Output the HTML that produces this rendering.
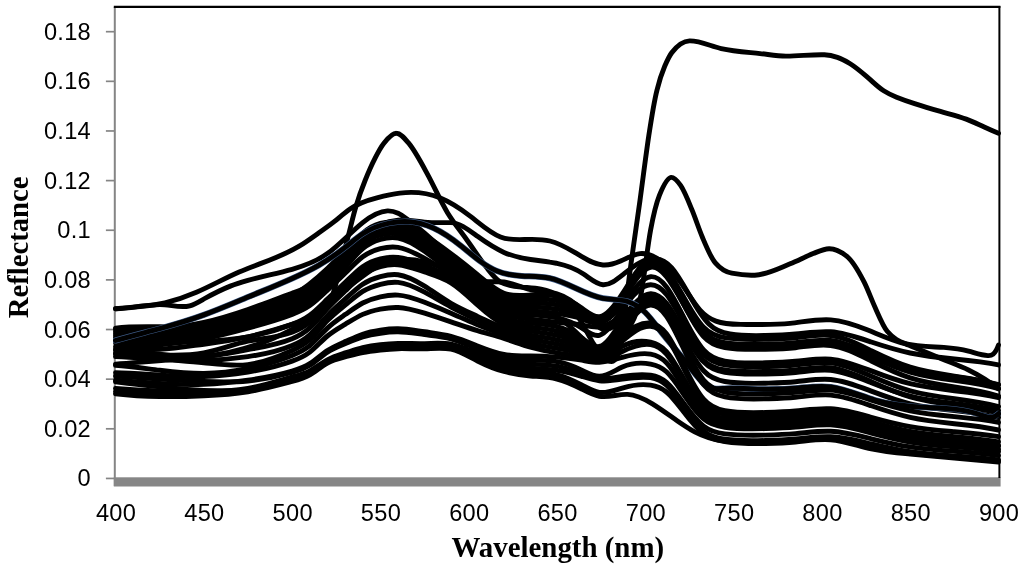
<!DOCTYPE html>
<html><head><meta charset="utf-8"><title>Reflectance</title>
<style>
html,body{margin:0;padding:0;background:#fff;}
body{width:1024px;height:567px;overflow:hidden;}
svg{display:block}
.num text{font-family:"Liberation Sans","DejaVu Sans",sans-serif;font-size:23.6px;letter-spacing:0.3px;fill:#000;}
.ttl{font-family:"Liberation Serif","DejaVu Serif",serif;font-weight:bold;fill:#000;}
.cv path{fill:none;stroke:#000;stroke-width:4.9;stroke-linejoin:round;stroke-linecap:round;}
.tk line{stroke:#858585;stroke-width:1.7;}
</style></head><body>
<svg width="1024" height="567" viewBox="0 0 1024 567">
<rect width="1024" height="567" fill="#fff"/>
<g class="tk"><line x1="105.9" x2="114.5" y1="478.45" y2="478.45"/><line x1="105.9" x2="114.5" y1="428.81" y2="428.81"/><line x1="105.9" x2="114.5" y1="379.17" y2="379.17"/><line x1="105.9" x2="114.5" y1="329.53" y2="329.53"/><line x1="105.9" x2="114.5" y1="279.89" y2="279.89"/><line x1="105.9" x2="114.5" y1="230.25" y2="230.25"/><line x1="105.9" x2="114.5" y1="180.61" y2="180.61"/><line x1="105.9" x2="114.5" y1="130.97" y2="130.97"/><line x1="105.9" x2="114.5" y1="81.33" y2="81.33"/><line x1="105.9" x2="114.5" y1="31.69" y2="31.69"/><line x1="114.8" x2="114.8" y1="7" y2="486" style="stroke-width:2"/></g>
<rect x="113.8" y="477.3" width="886.8" height="9.2" fill="#868686"/>
<clipPath id="cp"><rect x="113" y="0" width="888" height="480"/></clipPath>
<g class="cv" clip-path="url(#cp)">
<path d="M115.5,349.2C130.2,349.8 144.9,349.7 159.7,349.2C174.4,348.7 189.1,346.2 203.8,344.2C218.5,342.2 233.2,340.0 247.9,336.8C262.7,333.6 277.4,329.1 292.1,324.4C300.9,321.5 309.8,319.3 318.6,314.4C322.7,312.2 326.8,308.6 331.0,299.5C334.5,291.8 338.0,274.9 341.5,261.6C343.6,253.8 345.7,246.2 347.7,238.2C350.4,228.0 353.0,216.2 355.7,207.2C358.9,196.4 362.0,188.0 365.2,180.2C368.5,172.0 371.8,164.5 375.1,158.1C378.0,152.3 381.0,146.9 383.9,143.2C388.1,138.0 392.2,133.2 396.3,133.3C400.4,133.3 404.5,138.3 408.7,143.2C415.1,150.9 421.6,163.4 428.1,175.4C434.6,187.5 441.0,202.0 447.5,212.7C454.0,223.3 460.5,231.0 466.9,240.0C473.4,248.9 479.9,259.1 486.4,267.3C491.1,273.2 495.8,279.6 500.5,282.2C507.6,286.0 514.6,286.5 521.7,287.1C528.2,287.7 534.6,288.0 541.1,289.1C547.6,290.3 554.1,292.8 560.5,297.1C566.4,300.9 572.3,308.2 578.2,316.9C582.9,323.9 587.6,334.1 592.3,341.7C595.9,347.5 599.4,353.4 602.9,356.6C605.9,359.3 608.8,361.6 611.7,361.6C613.6,361.6 615.5,359.9 617.4,355.6C619.0,351.9 620.7,342.3 622.3,331.8C624.5,318.0 626.7,296.7 628.9,279.7C632.6,250.7 636.3,226.9 640.0,200.3C642.9,179.1 645.9,155.1 648.8,135.7C651.5,117.9 654.2,101.1 657.0,90.1C659.5,79.5 662.1,72.3 664.7,66.2C667.1,60.7 669.4,55.6 671.8,52.6C677.7,45.0 683.6,41.1 689.5,40.9C700.0,40.6 710.6,46.2 721.2,48.6C734.2,51.5 747.1,52.2 760.1,53.6C768.7,54.5 777.3,56.0 785.9,56.1C798.7,56.2 811.5,54.4 824.4,54.8C828.7,55.0 833.1,55.9 837.4,57.3C841.7,58.6 845.9,61.1 850.2,63.8C856.2,67.5 862.2,72.8 868.2,77.9C873.3,82.3 878.5,87.5 883.7,90.8C888.0,93.6 892.3,95.5 896.6,97.3C902.6,99.7 908.6,101.8 914.6,103.7C923.2,106.5 931.8,109.0 940.4,111.4C949.0,113.9 957.6,115.9 966.2,119.1C972.2,121.3 978.2,124.3 984.2,127.0C989.0,129.2 993.7,131.3 998.5,133.3"/>
<path d="M115.5,364.1C144.9,361.7 174.4,360.1 203.8,356.6C233.2,353.2 262.7,345.0 292.1,329.3C309.8,319.9 327.4,302.5 345.1,289.6C361.6,277.6 378.0,262.1 394.5,259.8C413.4,257.2 432.2,262.5 451.0,272.2C468.7,281.3 486.4,304.8 504.0,309.5C521.7,314.2 539.3,309.1 557.0,316.9C572.3,323.7 587.6,350.6 602.9,349.2C611.2,348.4 619.4,339.0 627.6,329.3C631.8,324.5 635.9,317.5 640.0,299.5C643.5,284.1 647.1,248.9 650.6,230.0C653.5,214.3 656.5,202.5 659.4,195.3C663.3,185.8 667.2,177.8 671.1,177.4C674.3,177.1 677.4,180.9 680.6,185.4C684.4,190.8 688.3,200.8 692.1,210.2C695.6,218.8 699.0,229.2 702.5,237.5C706.7,247.5 710.9,257.7 715.1,262.6C720.6,269.1 726.2,272.1 731.8,273.2C739.5,274.7 747.1,275.6 754.8,275.2C766.6,274.7 778.3,268.6 790.1,263.8C797.8,260.7 805.4,256.7 813.1,253.6C818.4,251.5 823.7,248.8 829.0,248.7C834.9,248.5 840.7,251.5 846.6,256.1C852.5,260.7 858.4,270.8 864.3,282.4C867.8,289.4 871.3,299.1 874.9,307.0C879.0,316.2 883.1,326.3 887.2,331.3C894.3,339.9 901.4,342.0 908.4,345.0C919.6,349.6 930.8,354.1 942.0,358.9C950.8,362.6 959.6,365.8 968.5,370.0C978.5,374.9 988.5,380.9 998.5,388.9"/>
<path d="M115.5,308.7C123.7,307.9 132.0,307.3 140.2,306.5C148.5,305.7 156.7,304.6 164.9,302.8C175.4,300.4 185.9,296.9 196.4,292.3C210.6,286.2 224.9,278.2 239.1,272.0C259.1,263.3 279.1,258.3 299.2,246.2C305.6,242.3 312.1,237.6 318.6,233.0C323.9,229.3 329.2,225.6 334.5,221.4C339.8,217.1 345.1,212.3 350.4,208.7C359.2,202.7 368.0,200.1 376.9,197.8C384.5,195.8 392.2,194.0 399.8,193.1C413.4,191.4 426.9,192.5 440.4,198.0C450.5,202.1 460.5,208.6 470.5,216.4C480.5,224.2 490.5,233.2 500.5,237.0C508.7,240.2 517.0,239.8 525.2,239.5C533.5,239.2 541.7,238.9 549.9,241.0C558.2,243.0 566.4,247.5 574.7,252.4C584.1,258.0 593.5,264.4 602.9,265.0C608.8,265.5 614.7,263.7 620.6,261.1C627.1,258.2 633.5,254.3 640.0,253.6C646.5,253.0 653.0,255.5 659.4,260.1C666.5,265.1 673.6,272.5 680.6,282.4C687.1,291.5 693.6,302.7 700.0,310.0C705.3,315.9 710.6,319.1 715.9,321.1C724.2,324.2 732.4,324.3 740.7,324.4C757.1,324.6 773.6,325.1 790.1,323.4C803.7,321.9 817.2,318.9 830.7,319.9C843.1,320.8 855.5,325.1 867.8,330.1C880.2,335.1 892.5,340.8 904.9,343.7C917.9,346.7 930.8,346.6 943.8,347.4C952.0,348.0 960.2,348.9 968.5,351.2C975.0,352.9 981.4,355.5 987.9,355.6C989.7,355.7 991.4,355.6 993.2,354.1C995.0,352.7 996.7,350.0 998.5,345.0"/>
<path d="M115.5,308.7C123.7,308.8 132.0,307.4 140.2,306.2C148.5,305.1 156.7,304.0 164.9,304.8C173.2,305.5 181.4,308.0 189.7,305.8C194.4,304.5 199.1,301.7 203.8,299.0C212.6,294.1 221.5,289.6 230.3,286.1C236.2,283.9 242.1,282.1 247.9,280.4C262.7,276.4 277.4,273.3 292.1,269.3C303.9,266.0 315.6,262.1 327.4,253.6C339.2,245.1 351.0,232.0 362.7,222.6C371.0,216.0 379.2,211.3 387.5,210.9C391.0,210.8 394.5,211.5 398.1,213.2C401.0,214.6 403.9,216.7 406.9,218.9C412.8,223.3 418.7,228.0 424.6,233.0C433.4,240.5 442.2,248.5 451.0,257.4C459.9,266.2 468.7,276.0 477.5,279.7C486.4,283.4 495.2,280.9 504.0,282.0C512.9,283.0 521.7,287.6 530.5,289.7C539.3,291.7 548.2,291.2 557.0,293.8C565.8,296.4 574.7,302.0 583.5,311.6C590.0,318.6 596.4,327.7 602.9,329.3C610.0,331.1 617.0,324.1 624.1,317.2C632.9,308.6 641.8,300.3 650.6,300.5C655.9,300.7 661.2,303.9 666.5,310.5C672.4,317.8 678.3,329.2 684.2,340.2C690.6,352.3 697.1,363.9 703.6,370.8C710.6,378.3 717.7,380.3 724.8,381.5C738.3,383.9 751.8,383.5 765.4,383.2C775.4,382.9 785.4,382.7 795.4,381.7C807.2,380.6 819.0,378.4 830.7,379.5C844.3,380.7 857.8,386.0 871.3,391.1C884.3,396.0 897.2,400.7 910.2,403.8C924.9,407.4 939.6,409.0 954.4,410.6C969.1,412.3 983.8,413.9 998.5,417.5"/>
<path d="M115.5,328.1C130.2,326.3 144.9,326.7 159.7,326.8C174.4,327.0 189.1,327.0 203.8,324.4C218.5,321.7 233.2,316.4 247.9,312.0C262.7,307.5 277.4,304.0 292.1,295.8C303.9,289.3 315.6,279.8 327.4,268.6C339.2,257.3 351.0,244.4 362.7,235.3C374.5,226.2 386.3,221.0 398.1,220.1C406.9,219.5 415.7,221.3 424.6,222.1C432.8,222.9 441.0,222.7 449.3,222.6C449.9,222.6 450.5,222.6 451.0,222.6C459.9,222.9 468.7,229.9 477.5,236.3C486.4,242.7 495.2,248.5 504.0,252.4C512.9,256.3 521.7,258.2 530.5,259.5C537.0,260.5 543.5,261.1 549.9,262.1C552.3,262.4 554.6,262.9 557.0,263.4C565.8,265.2 574.7,268.2 583.5,274.0C590.0,278.3 596.4,284.2 602.9,284.7C610.0,285.2 617.0,279.3 624.1,273.7C629.4,269.5 634.7,265.4 640.0,262.6C645.3,259.7 650.6,258.1 655.9,258.6C661.2,259.1 666.5,261.8 671.8,267.8C677.7,274.5 683.6,285.2 689.5,295.5C695.9,306.8 702.4,317.6 708.9,324.0C715.9,331.0 723.0,332.9 730.1,334.0C741.8,335.9 753.6,335.8 765.4,335.5C775.4,335.3 785.4,335.0 795.4,334.0C807.2,332.9 819.0,331.0 830.7,331.8C844.3,332.8 857.8,337.5 871.3,342.0C884.3,346.3 897.2,350.3 910.2,353.0C924.9,356.1 939.6,357.6 954.4,359.0C969.1,360.4 983.8,361.8 998.5,364.9"/>
<path d="M115.5,329.3C130.2,329.2 144.9,329.0 159.7,328.1C174.4,327.2 189.1,325.5 203.8,322.4C218.5,319.2 233.2,314.6 247.9,309.5C262.7,304.3 277.4,298.6 292.1,293.3C298.0,291.2 303.9,289.2 309.8,286.3C315.6,283.4 321.5,279.6 327.4,274.2C333.3,268.9 339.2,262.0 345.1,254.4C351.0,246.9 356.9,238.7 362.7,233.2C368.6,227.7 374.5,224.9 380.4,223.3C386.3,221.7 392.2,221.4 398.1,222.6C406.9,224.3 415.7,229.4 424.6,235.0C433.4,240.7 442.2,247.0 451.0,253.6C459.9,260.3 468.7,267.3 477.5,274.7C486.4,282.1 495.2,289.9 504.0,293.3C512.9,296.7 521.7,295.7 530.5,295.0C539.3,294.3 548.2,293.9 557.0,296.1C565.2,298.1 573.5,302.2 581.7,308.0C587.6,312.2 593.5,317.2 599.4,316.7C607.0,316.0 614.7,305.9 622.3,293.9C631.8,279.2 641.2,261.7 650.6,259.8C655.9,258.8 661.2,262.7 666.5,269.4C672.4,276.7 678.3,287.5 684.2,298.0C690.6,309.5 697.1,320.7 703.6,327.3C710.6,334.6 717.7,336.5 724.8,337.7C738.3,339.9 751.8,339.6 765.4,339.3C775.4,339.0 785.4,338.8 795.4,337.8C807.2,336.5 819.0,334.1 830.7,335.5C844.3,337.2 857.8,344.1 871.3,350.7C884.3,357.0 897.2,363.1 910.2,367.2C924.9,371.8 939.6,374.0 954.4,376.1C969.1,378.2 983.8,380.3 998.5,385.0"/>
<path d="M115.5,331.3C130.2,331.6 144.9,331.2 159.7,330.1C174.4,328.9 189.1,326.9 203.8,323.9C218.5,320.8 233.2,316.7 247.9,312.0C262.7,307.2 277.4,301.9 292.1,296.6C298.0,294.4 303.9,292.3 309.8,289.2C315.6,286.0 321.5,281.9 327.4,276.5C333.3,271.1 339.2,264.5 345.1,257.2C351.0,249.9 356.9,242.1 362.7,236.8C368.6,231.4 374.5,228.7 380.4,227.1C386.3,225.6 392.2,225.2 398.1,226.3C406.9,228.0 415.7,233.1 424.6,238.7C433.4,244.4 442.2,250.7 451.0,257.4C459.9,264.0 468.7,270.9 477.5,278.3C486.4,285.6 495.2,293.4 504.0,296.8C512.9,300.3 521.7,299.5 530.5,299.0C539.3,298.6 548.2,298.7 557.0,300.5C565.2,302.3 573.5,305.7 581.7,310.8C587.6,314.4 593.5,318.9 599.4,318.2C607.0,317.2 614.7,307.5 622.3,295.8C631.8,281.4 641.2,264.0 650.6,262.3C655.9,261.3 661.2,265.3 666.5,272.1C672.4,279.7 678.3,290.8 684.2,301.6C690.6,313.5 697.1,325.1 703.6,331.9C710.6,339.4 717.7,341.4 724.8,342.6C738.3,344.9 751.8,344.5 765.4,344.2C775.4,344.0 785.4,343.8 795.4,342.7C807.2,341.5 819.0,339.2 830.7,340.5C844.3,342.0 857.8,348.2 871.3,354.1C884.3,359.7 897.2,365.1 910.2,368.8C924.9,372.9 939.6,374.8 954.4,376.7C969.1,378.6 983.8,380.5 998.5,384.7"/>
<path d="M115.5,333.3C130.2,333.5 144.9,333.3 159.7,332.3C174.4,331.3 189.1,329.6 203.8,326.8C218.5,324.1 233.2,320.2 247.9,315.7C262.7,311.2 277.4,306.0 292.1,300.5C298.0,298.4 303.9,296.1 309.8,292.7C315.6,289.4 321.5,284.9 327.4,279.4C333.3,273.9 339.2,267.4 345.1,260.3C351.0,253.2 356.9,245.6 362.7,240.4C368.6,235.2 374.5,232.5 380.4,231.0C386.3,229.4 392.2,229.0 398.1,230.0C406.9,231.7 415.7,236.7 424.6,242.4C433.4,248.0 442.2,254.2 451.0,260.8C459.9,267.4 468.7,274.4 477.5,281.7C486.4,289.1 495.2,296.8 504.0,300.3C512.9,303.8 521.7,303.2 530.5,303.0C539.3,302.8 548.2,303.1 557.0,304.8C565.2,306.3 573.5,309.1 581.7,313.5C587.6,316.7 593.5,320.8 599.4,319.9C607.0,318.8 614.7,309.4 622.3,297.9C631.8,283.7 641.2,266.4 650.6,264.8C655.9,263.9 661.2,267.9 666.5,274.9C672.4,282.7 678.3,294.2 684.2,305.3C690.6,317.6 697.1,329.4 703.6,336.5C710.6,344.3 717.7,346.3 724.8,347.5C738.3,349.9 751.8,349.5 765.4,349.2C775.4,349.0 785.4,348.8 795.4,347.7C807.2,346.4 819.0,343.9 830.7,345.5C844.3,347.2 857.8,354.3 871.3,361.0C884.3,367.5 897.2,373.7 910.2,377.9C924.9,382.6 939.6,384.8 954.4,387.0C969.1,389.2 983.8,391.3 998.5,396.1"/>
<path d="M115.5,335.3C130.2,335.4 144.9,335.3 159.7,334.5C174.4,333.8 189.1,332.4 203.8,329.8C218.5,327.3 233.2,323.7 247.9,319.4C262.7,315.1 277.4,310.2 292.1,304.5C298.0,302.2 303.9,299.8 309.8,296.1C315.6,292.4 321.5,287.4 327.4,281.6C333.3,275.9 339.2,269.4 345.1,262.4C351.0,255.3 356.9,247.7 362.7,242.6C368.6,237.4 374.5,234.7 380.4,233.1C386.3,231.5 392.2,230.9 398.1,232.0C406.9,233.7 415.7,239.0 424.6,244.9C433.4,250.9 442.2,257.5 451.0,264.3C459.9,271.1 468.7,277.9 477.5,285.2C486.4,292.5 495.2,300.2 504.0,303.8C512.9,307.4 521.7,306.9 530.5,307.0C539.3,307.1 548.2,307.8 557.0,309.2C565.2,310.6 573.5,312.6 581.7,316.3C587.6,318.9 593.5,322.4 599.4,321.4C607.0,320.0 614.7,310.9 622.3,299.7C631.8,286.0 641.2,269.0 650.6,267.3C655.9,266.3 661.2,270.2 666.5,276.8C672.4,284.2 678.3,294.9 684.2,305.4C690.6,316.9 697.1,328.1 703.6,334.8C710.6,342.1 717.7,343.9 724.8,345.1C738.3,347.4 751.8,347.0 765.4,346.7C775.4,346.5 785.4,346.2 795.4,345.2C807.2,344.0 819.0,341.7 830.7,343.0C844.3,344.5 857.8,350.9 871.3,357.0C884.3,362.8 897.2,368.4 910.2,372.1C924.9,376.4 939.6,378.4 954.4,380.3C969.1,382.3 983.8,384.3 998.5,388.6"/>
<path d="M115.5,337.3C130.2,337.3 144.9,337.3 159.7,336.8C174.4,336.2 189.1,335.1 203.8,332.8C218.5,330.5 233.2,327.2 247.9,323.1C262.7,319.1 277.4,314.4 292.1,308.5C298.0,306.1 303.9,303.5 309.8,299.4C315.6,295.4 321.5,289.8 327.4,283.7C333.3,277.7 339.2,271.3 345.1,264.2C351.0,257.2 356.9,249.6 362.7,244.5C368.6,239.4 374.5,236.7 380.4,235.0C386.3,233.3 392.2,232.7 398.1,233.8C406.9,235.4 415.7,241.1 424.6,247.4C433.4,253.6 442.2,260.5 451.0,267.8C459.9,275.0 468.7,282.6 477.5,290.5C486.4,298.4 495.2,306.6 504.0,310.7C512.9,314.8 521.7,314.7 530.5,315.0C539.3,315.3 548.2,316.0 557.0,317.9C565.2,319.7 573.5,322.7 581.7,328.0C587.6,331.8 593.5,336.8 599.4,335.3C607.0,333.4 614.7,320.5 622.3,309.5C631.8,295.8 641.2,284.8 650.6,284.7C655.9,284.6 661.2,287.9 666.5,294.5C672.4,301.8 678.3,313.1 684.2,324.0C690.6,335.9 697.1,347.4 703.6,354.3C710.6,361.7 717.7,363.7 724.8,364.9C738.3,367.3 751.8,366.9 765.4,366.6C775.4,366.3 785.4,366.1 795.4,365.1C807.2,363.9 819.0,361.6 830.7,362.8C844.3,364.3 857.8,370.4 871.3,376.3C884.3,381.9 897.2,387.3 910.2,390.9C924.9,395.0 939.6,396.9 954.4,398.8C969.1,400.7 983.8,402.6 998.5,406.7"/>
<path d="M115.5,339.3C130.2,339.3 144.9,339.4 159.7,339.0C174.4,338.6 189.1,337.8 203.8,335.8C218.5,333.8 233.2,330.7 247.9,326.8C262.7,323.0 277.4,318.5 292.1,312.5C298.0,310.0 303.9,307.4 309.8,303.0C315.6,298.7 321.5,292.8 327.4,286.7C333.3,280.6 339.2,274.3 345.1,267.6C351.0,260.8 356.9,253.5 362.7,248.6C368.6,243.6 374.5,241.0 380.4,239.3C386.3,237.7 392.2,237.0 398.1,238.0C406.9,239.5 415.7,245.0 424.6,251.3C433.4,257.6 442.2,264.7 451.0,271.3C459.9,277.8 468.7,283.8 477.5,290.3C486.4,296.8 495.2,303.8 504.0,307.2C512.9,310.7 521.7,310.6 530.5,311.0C539.3,311.4 548.2,312.2 557.0,313.4C565.2,314.6 573.5,316.0 581.7,318.9C587.6,321.0 593.5,323.8 599.4,322.9C607.0,321.6 614.7,314.0 622.3,304.4C631.8,292.6 641.2,277.7 650.6,276.7C655.9,276.2 661.2,280.0 666.5,287.0C672.4,294.9 678.3,306.6 684.2,318.1C690.6,330.6 697.1,342.7 703.6,349.9C710.6,357.8 717.7,359.8 724.8,361.1C738.3,363.6 751.8,363.2 765.4,362.8C775.4,362.6 785.4,362.3 795.4,361.3C807.2,360.2 819.0,358.1 830.7,359.1C844.3,360.3 857.8,365.8 871.3,370.9C884.3,375.9 897.2,380.6 910.2,383.7C924.9,387.3 939.6,389.0 954.4,390.7C969.1,392.3 983.8,394.0 998.5,397.6"/>
<path d="M115.5,346.7C130.2,346.5 144.9,345.9 159.7,344.7C174.4,343.5 189.1,341.6 203.8,338.8C218.5,335.9 233.2,332.1 247.9,328.1C262.7,324.1 277.4,320.0 292.1,314.4C298.0,312.2 303.9,309.7 309.8,305.6C315.6,301.5 321.5,295.8 327.4,290.2C333.3,284.6 339.2,279.2 345.1,273.3C351.0,267.5 356.9,261.2 362.7,256.8C368.6,252.5 374.5,250.2 380.4,248.7C386.3,247.2 392.2,246.6 398.1,247.4C406.9,248.7 415.7,253.5 424.6,258.3C433.4,263.2 442.2,268.2 451.0,274.7C459.9,281.3 468.7,289.4 477.5,297.5C486.4,305.5 495.2,313.4 504.0,317.7C512.9,321.9 521.7,322.4 530.5,323.0C539.3,323.6 548.2,324.3 557.0,326.6C565.2,328.7 573.5,332.2 581.7,338.1C587.6,342.3 593.5,347.8 599.4,346.5C607.0,344.7 614.7,331.6 622.3,320.0C631.8,305.8 641.2,294.0 650.6,293.6C655.9,293.4 661.2,296.7 666.5,303.2C672.4,310.5 678.3,321.5 684.2,332.2C690.6,343.9 697.1,355.2 703.6,361.9C710.6,369.3 717.7,371.2 724.8,372.4C738.3,374.7 751.8,374.3 765.4,374.0C775.4,373.8 785.4,373.5 795.4,372.5C807.2,371.4 819.0,369.2 830.7,370.3C844.3,371.6 857.8,377.3 871.3,382.7C884.3,387.9 897.2,392.8 910.2,396.1C924.9,399.9 939.6,401.7 954.4,403.4C969.1,405.2 983.8,406.9 998.5,410.7"/>
<path d="M115.5,343.0C130.2,342.5 144.9,342.4 159.7,342.2C174.4,342.1 189.1,341.9 203.8,341.2C218.5,340.6 233.2,339.4 247.9,336.8C262.7,334.2 277.4,330.1 292.1,324.4C298.0,322.1 303.9,319.5 309.8,315.2C315.6,310.9 321.5,304.8 327.4,299.1C333.3,293.5 339.2,288.2 345.1,282.6C351.0,276.9 356.9,270.8 362.7,266.7C368.6,262.5 374.5,260.2 380.4,258.8C386.3,257.3 392.2,256.7 398.1,257.4C406.9,258.3 415.7,262.0 424.6,265.5C433.4,269.0 442.2,272.4 451.0,277.7C459.9,283.0 468.7,290.1 477.5,297.0C486.4,304.0 495.2,310.6 504.0,314.2C512.9,317.7 521.7,318.2 530.5,319.1C539.3,320.0 548.2,321.5 557.0,322.4C565.2,323.2 573.5,323.6 581.7,325.0C587.6,326.0 593.5,327.5 599.4,326.8C607.0,325.9 614.7,321.2 622.3,314.9C631.8,307.2 641.2,297.2 650.6,297.1C655.9,297.0 661.2,300.0 666.5,306.0C672.4,312.6 678.3,322.9 684.2,332.8C690.6,343.7 697.1,354.1 703.6,360.4C710.6,367.1 717.7,368.9 724.8,370.0C738.3,372.2 751.8,371.8 765.4,371.5C775.4,371.3 785.4,371.1 795.4,370.0C807.2,368.8 819.0,366.5 830.7,367.8C844.3,369.3 857.8,375.7 871.3,381.7C884.3,387.5 897.2,393.1 910.2,396.8C924.9,401.1 939.6,403.1 954.4,405.0C969.1,407.0 983.8,408.9 998.5,413.2"/>
<path d="M115.5,340.5C130.2,336.3 144.9,332.6 159.7,328.6C174.4,324.6 189.1,320.3 203.8,314.9C218.5,309.6 233.2,303.2 247.9,297.1C262.7,290.9 277.4,285.0 292.1,278.4C300.9,274.5 309.8,270.3 318.6,265.3C327.4,260.3 336.3,254.4 345.1,247.4C351.0,242.8 356.9,237.7 362.7,233.8C371.6,227.9 380.4,224.9 389.2,223.1C395.7,221.8 402.2,221.2 408.7,221.6C416.9,222.1 425.1,224.3 433.4,228.1C442.8,232.4 452.2,238.9 461.6,246.4C467.5,251.1 473.4,256.2 479.3,260.6C485.2,264.9 491.1,268.6 497.0,271.0C505.2,274.4 513.4,275.5 521.7,276.0C531.1,276.5 540.5,276.1 549.9,278.2C567.6,282.2 585.3,295.2 602.9,298.3C611.2,299.8 619.4,299.1 627.6,301.5C633.5,303.3 639.4,306.6 645.3,312.5C651.2,318.3 657.1,326.8 663.0,334.3C665.9,338.0 668.8,341.5 671.8,345.0C677.7,351.9 683.6,358.8 689.5,366.6C694.7,373.5 700.0,381.1 705.3,384.9C711.8,389.6 718.3,388.7 724.8,388.4C733.6,388.0 742.4,388.5 751.3,388.9C766.0,389.5 780.7,389.4 795.4,388.2C807.2,387.2 819.0,385.4 830.7,386.9C845.4,388.8 860.2,395.7 874.9,400.1C892.5,405.3 910.2,406.7 927.9,407.5C945.5,408.3 963.2,408.6 980.8,415.0C984.4,416.2 987.9,417.8 991.4,417.4C993.8,417.2 996.1,416.2 998.5,413.7" style="stroke:#3c5a86;stroke-width:6.0"/>
<path d="M115.5,340.5C130.2,336.3 144.9,332.6 159.7,328.6C174.4,324.6 189.1,320.3 203.8,314.9C218.5,309.6 233.2,303.2 247.9,297.1C262.7,290.9 277.4,285.0 292.1,278.4C300.9,274.5 309.8,270.3 318.6,265.3C327.4,260.3 336.3,254.4 345.1,247.4C351.0,242.8 356.9,237.7 362.7,233.8C371.6,227.9 380.4,224.9 389.2,223.1C395.7,221.8 402.2,221.2 408.7,221.6C416.9,222.1 425.1,224.3 433.4,228.1C442.8,232.4 452.2,238.9 461.6,246.4C467.5,251.1 473.4,256.2 479.3,260.6C485.2,264.9 491.1,268.6 497.0,271.0C505.2,274.4 513.4,275.5 521.7,276.0C531.1,276.5 540.5,276.1 549.9,278.2C567.6,282.2 585.3,295.2 602.9,298.3C611.2,299.8 619.4,299.1 627.6,301.5C633.5,303.3 639.4,306.6 645.3,312.5C651.2,318.3 657.1,326.8 663.0,334.3C665.9,338.0 668.8,341.5 671.8,345.0C677.7,351.9 683.6,358.8 689.5,366.6C694.7,373.5 700.0,381.1 705.3,384.9C711.8,389.6 718.3,388.7 724.8,388.4C733.6,388.0 742.4,388.5 751.3,388.9C766.0,389.5 780.7,389.4 795.4,388.2C807.2,387.2 819.0,385.4 830.7,386.9C845.4,388.8 860.2,395.7 874.9,400.1C892.5,405.3 910.2,406.7 927.9,407.5C945.5,408.3 963.2,408.6 980.8,415.0C984.4,416.2 987.9,417.8 991.4,417.4C993.8,417.2 996.1,416.2 998.5,413.7"/>
<path d="M115.5,354.1C130.2,353.2 144.9,354.3 159.7,354.9C174.4,355.5 189.1,355.7 203.8,352.9C218.5,350.1 233.2,344.3 247.9,341.2C262.7,338.2 277.4,337.8 292.1,332.3C298.0,330.1 303.9,327.1 309.8,322.2C315.6,317.3 321.5,310.5 327.4,304.4C333.3,298.3 339.2,292.9 345.1,287.1C351.0,281.3 356.9,275.1 362.7,270.9C368.6,266.6 374.5,264.2 380.4,262.7C386.3,261.2 392.2,260.5 398.1,261.1C406.9,261.9 415.7,265.6 424.6,268.8C433.4,272.1 442.2,274.9 451.0,280.4C459.9,286.0 468.7,294.2 477.5,302.0C486.4,309.8 495.2,317.0 504.0,321.1C512.9,325.2 521.7,326.2 530.5,327.1C539.3,328.0 548.2,329.0 557.0,331.1C565.2,333.0 573.5,335.8 581.7,340.7C587.6,344.2 593.5,348.7 599.4,347.7C607.0,346.4 614.7,335.7 622.3,325.5C631.8,313.1 641.2,301.5 650.6,301.5C655.9,301.5 661.2,305.2 666.5,312.6C672.4,320.8 678.3,333.6 684.2,345.9C690.6,359.4 697.1,372.3 703.6,380.0C710.6,388.4 717.7,390.6 724.8,392.0C738.3,394.7 751.8,394.3 765.4,393.9C775.4,393.6 785.4,393.3 795.4,392.4C807.2,391.3 819.0,389.3 830.7,390.1C844.3,391.1 857.8,395.7 871.3,400.1C884.3,404.2 897.2,408.1 910.2,410.8C924.9,413.8 939.6,415.2 954.4,416.6C969.1,418.0 983.8,419.4 998.5,422.4"/>
<path d="M115.5,350.4C130.2,350.4 144.9,352.4 159.7,354.1C174.4,355.9 189.1,357.5 203.8,356.6C218.5,355.7 233.2,352.4 247.9,349.7C262.7,347.0 277.4,344.9 292.1,338.8C298.0,336.3 303.9,333.2 309.8,327.9C315.6,322.6 321.5,315.1 327.4,308.6C333.3,302.2 339.2,296.8 345.1,291.1C351.0,285.3 356.9,279.1 362.7,274.8C368.6,270.6 374.5,268.2 380.4,266.6C386.3,265.0 392.2,264.3 398.1,264.8C406.9,265.6 415.7,269.1 424.6,272.0C433.4,275.0 442.2,277.4 451.0,282.9C459.9,288.4 468.7,297.0 477.5,305.0C486.4,313.0 495.2,320.4 504.0,324.6C512.9,328.8 521.7,329.9 530.5,331.0C539.3,332.2 548.2,333.4 557.0,335.3C565.2,337.0 573.5,339.4 581.7,343.3C587.6,346.2 593.5,349.9 599.4,349.2C607.0,348.3 614.7,340.1 622.3,330.6C631.8,319.0 641.2,305.4 650.6,305.0C655.9,304.8 661.2,308.7 666.5,316.3C672.4,324.7 678.3,337.6 684.2,350.0C690.6,363.7 697.1,376.9 703.6,384.8C710.6,393.3 717.7,395.6 724.8,396.9C738.3,399.6 751.8,399.2 765.4,398.8C775.4,398.5 785.4,398.3 795.4,397.3C807.2,396.2 819.0,394.2 830.7,395.1C844.3,396.2 857.8,401.1 871.3,405.8C884.3,410.3 897.2,414.5 910.2,417.4C924.9,420.7 939.6,422.2 954.4,423.7C969.1,425.2 983.8,426.7 998.5,430.0"/>
<path d="M115.5,356.6C130.2,357.1 144.9,358.2 159.7,359.1C174.4,360.0 189.1,360.7 203.8,360.4C218.5,360.0 233.2,358.7 247.9,356.6C262.7,354.5 277.4,351.7 292.1,345.5C298.0,343.0 303.9,340.0 309.8,334.7C315.6,329.4 321.5,321.8 327.4,315.6C333.3,309.3 339.2,304.4 345.1,299.1C351.0,293.8 356.9,288.1 362.7,284.2C368.6,280.3 374.5,278.1 380.4,276.6C386.3,275.0 392.2,274.0 398.1,274.7C406.9,275.8 415.7,280.6 424.6,286.1C433.4,291.7 442.2,298.1 451.0,303.3C459.9,308.4 468.7,312.3 477.5,316.4C486.4,320.5 495.2,324.9 504.0,328.1C512.9,331.3 521.7,333.4 530.5,335.1C539.3,336.8 548.2,338.1 557.0,339.8C565.2,341.3 573.5,343.2 581.7,346.8C587.6,349.4 593.5,352.8 599.4,351.9C607.0,350.8 614.7,342.5 622.3,335.8C631.8,327.6 641.2,321.8 650.6,323.1C655.9,323.9 661.2,326.9 666.5,333.8C672.4,341.5 678.3,354.1 684.2,366.0C690.6,379.2 697.1,391.6 703.6,399.1C710.6,407.2 717.7,409.3 724.8,410.7C738.3,413.3 751.8,412.9 765.4,412.5C775.4,412.2 785.4,411.9 795.4,411.0C807.2,409.9 819.0,408.1 830.7,408.8C844.3,409.5 857.8,413.5 871.3,417.3C884.3,421.0 897.2,424.3 910.2,426.6C924.9,429.2 939.6,430.4 954.4,431.7C969.1,432.9 983.8,434.1 998.5,436.7"/>
<path d="M115.5,352.9C130.2,356.0 144.9,357.8 159.7,359.1C174.4,360.4 189.1,361.4 203.8,362.8C218.5,364.3 233.2,366.4 247.9,364.6C262.7,362.8 277.4,357.1 292.1,350.4C298.0,347.8 303.9,344.9 309.8,339.7C315.6,334.4 321.5,326.8 327.4,320.6C333.3,314.5 339.2,310.0 345.1,305.1C351.0,300.3 356.9,295.1 362.7,291.4C368.6,287.8 374.5,285.8 380.4,284.3C386.3,282.8 392.2,281.9 398.1,282.4C406.9,283.3 415.7,287.5 424.6,292.2C433.4,297.0 442.2,302.3 451.0,307.0C459.9,311.7 468.7,315.9 477.5,320.0C486.4,324.2 495.2,328.3 504.0,331.6C512.9,334.8 521.7,337.2 530.5,339.2C539.3,341.1 548.2,342.6 557.0,344.2C565.2,345.7 573.5,347.3 581.7,350.3C587.6,352.4 593.5,355.2 599.4,354.6C607.0,353.9 614.7,347.5 622.3,341.1C631.8,333.2 641.2,325.5 650.6,326.4C655.9,326.9 661.2,330.1 666.5,337.1C672.4,345.0 678.3,357.5 684.2,369.5C690.6,382.7 697.1,395.2 703.6,402.7C710.6,410.9 717.7,413.1 724.8,414.4C738.3,417.0 751.8,416.6 765.4,416.2C775.4,415.9 785.4,415.6 795.4,414.7C807.2,413.7 819.0,411.8 830.7,412.5C844.3,413.3 857.8,417.5 871.3,421.5C884.3,425.3 897.2,428.9 910.2,431.3C924.9,434.1 939.6,435.3 954.4,436.6C969.1,437.9 983.8,439.2 998.5,441.9"/>
<path d="M115.5,365.3C130.2,366.3 144.9,368.5 159.7,370.3C174.4,372.1 189.1,373.6 203.8,373.5C218.5,373.4 233.2,371.6 247.9,368.5C262.7,365.5 277.4,361.3 292.1,355.4C298.0,353.0 303.9,350.4 309.8,345.6C315.6,340.7 321.5,333.5 327.4,328.1C333.3,322.6 339.2,318.7 345.1,314.6C351.0,310.5 356.9,306.1 362.7,303.0C368.6,299.9 374.5,298.1 380.4,296.8C386.3,295.5 392.2,294.7 398.1,295.1C406.9,295.6 415.7,298.9 424.6,302.3C433.4,305.8 442.2,309.4 451.0,313.2C459.9,317.0 468.7,321.0 477.5,324.8C486.4,328.5 495.2,331.9 504.0,335.0C512.9,338.1 521.7,340.9 530.5,343.1C539.3,345.3 548.2,347.0 557.0,348.4C565.2,349.8 573.5,351.0 581.7,353.6C587.6,355.5 593.5,358.1 599.4,357.4C607.0,356.5 614.7,350.1 622.3,346.2C631.8,341.3 641.2,340.1 650.6,342.2C655.9,343.4 661.2,345.7 666.5,351.6C672.4,358.1 678.3,369.1 684.2,379.5C690.6,391.0 697.1,401.8 703.6,408.3C710.6,415.3 717.7,417.2 724.8,418.4C738.3,420.6 751.8,420.3 765.4,419.9C775.4,419.6 785.4,419.3 795.4,418.4C807.2,417.4 819.0,415.5 830.7,416.2C844.3,417.0 857.8,421.3 871.3,425.2C884.3,429.0 897.2,432.6 910.2,435.0C924.9,437.8 939.6,439.0 954.4,440.3C969.1,441.6 983.8,442.9 998.5,445.6"/>
<path d="M115.5,372.8C130.2,373.2 144.9,374.3 159.7,375.2C174.4,376.2 189.1,376.9 203.8,376.5C218.5,376.1 233.2,374.4 247.9,372.0C262.7,369.6 277.4,366.3 292.1,361.1C298.0,359.0 303.9,356.6 309.8,352.1C315.6,347.6 321.5,340.9 327.4,336.0C333.3,331.0 339.2,327.8 345.1,324.3C351.0,320.8 356.9,317.1 362.7,314.4C368.6,311.8 374.5,310.3 380.4,309.1C386.3,308.0 392.2,307.2 398.1,307.5C406.9,307.9 415.7,310.5 424.6,313.2C433.4,316.0 442.2,318.9 451.0,321.9C459.9,324.9 468.7,328.0 477.5,330.7C486.4,333.4 495.2,335.7 504.0,338.5C512.9,341.3 521.7,344.6 530.5,347.2C539.3,349.7 548.2,351.5 557.0,352.9C565.2,354.2 573.5,355.1 581.7,357.1C587.6,358.5 593.5,360.5 599.4,360.1C607.0,359.6 614.7,355.3 622.3,351.5C631.8,346.9 641.2,343.2 650.6,344.7C655.9,345.6 661.2,348.1 666.5,354.2C672.4,360.9 678.3,372.0 684.2,382.6C690.6,394.2 697.1,405.2 703.6,411.8C710.6,419.0 717.7,420.9 724.8,422.1C738.3,424.4 751.8,424.0 765.4,423.6C775.4,423.4 785.4,423.0 795.4,422.2C807.2,421.1 819.0,419.3 830.7,419.9C844.3,420.6 857.8,424.4 871.3,428.0C884.3,431.4 897.2,434.6 910.2,436.8C924.9,439.2 939.6,440.4 954.4,441.5C969.1,442.6 983.8,443.8 998.5,446.2"/>
<path d="M115.5,380.2C130.2,381.2 144.9,382.5 159.7,383.4C174.4,384.4 189.1,384.9 203.8,384.4C218.5,383.9 233.2,382.4 247.9,380.2C262.7,378.0 277.4,375.3 292.1,371.0C298.0,369.3 303.9,367.4 309.8,363.7C315.6,360.0 321.5,354.6 327.4,350.6C333.3,346.7 339.2,344.2 345.1,341.6C351.0,339.0 356.9,336.2 362.7,334.2C368.6,332.2 374.5,331.1 380.4,330.2C386.3,329.3 392.2,328.7 398.1,328.8C406.9,329.0 415.7,330.6 424.6,331.8C433.4,333.1 442.2,334.0 451.0,336.3C459.9,338.6 468.7,342.3 477.5,345.9C486.4,349.4 495.2,352.8 504.0,354.4C512.9,356.0 521.7,355.9 530.5,356.0C539.3,356.1 548.2,356.5 557.0,357.1C565.2,357.8 573.5,358.7 581.7,360.2C587.6,361.2 593.5,362.5 599.4,362.3C607.0,362.2 614.7,359.6 622.3,357.4C631.8,354.7 641.2,352.5 650.6,354.1C655.9,355.1 661.2,357.3 666.5,362.8C672.4,368.9 678.3,379.0 684.2,388.7C690.6,399.3 697.1,409.3 703.6,415.3C710.6,421.9 717.7,423.6 724.8,424.7C738.3,426.8 751.8,426.5 765.4,426.1C775.4,425.9 785.4,425.5 795.4,424.6C807.2,423.6 819.0,421.8 830.7,422.4C844.3,423.1 857.8,427.0 871.3,430.7C884.3,434.1 897.2,437.4 910.2,439.6C924.9,442.1 939.6,443.3 954.4,444.4C969.1,445.6 983.8,446.8 998.5,449.3"/>
<path d="M115.5,376.0C130.2,376.9 144.9,378.0 159.7,379.0C174.4,380.0 189.1,380.9 203.8,381.5C218.5,382.0 233.2,382.3 247.9,381.0C262.7,379.6 277.4,376.7 292.1,372.5C298.0,370.8 303.9,368.9 309.8,365.2C315.6,361.5 321.5,356.1 327.4,352.2C333.3,348.3 339.2,346.1 345.1,343.7C351.0,341.3 356.9,338.8 362.7,337.0C368.6,335.1 374.5,334.0 380.4,333.2C386.3,332.3 392.2,331.7 398.1,331.8C406.9,331.9 415.7,333.5 424.6,334.6C433.4,335.7 442.2,336.4 451.0,338.8C459.9,341.1 468.7,345.2 477.5,348.9C486.4,352.6 495.2,356.0 504.0,357.9C512.9,359.7 521.7,360.0 530.5,360.1C539.3,360.2 548.2,360.0 557.0,361.6C565.2,363.1 573.5,366.1 581.7,370.1C587.6,372.9 593.5,376.3 599.4,376.2C607.0,376.2 614.7,370.5 622.3,367.1C631.8,362.9 641.2,362.2 650.6,364.1C655.9,365.1 661.2,367.0 666.5,371.8C672.4,377.2 678.3,386.4 684.2,395.1C690.6,404.6 697.1,413.6 703.6,418.9C710.6,424.8 717.7,426.3 724.8,427.3C738.3,429.2 751.8,429.0 765.4,428.6C775.4,428.3 785.4,428.0 795.4,427.1C807.2,426.1 819.0,424.3 830.7,424.9C844.3,425.6 857.8,429.5 871.3,433.1C884.3,436.6 897.2,439.8 910.2,442.0C924.9,444.5 939.6,445.7 954.4,446.9C969.1,448.0 983.8,449.2 998.5,451.7"/>
<path d="M115.5,388.4C130.2,389.6 144.9,390.4 159.7,390.9C174.4,391.3 189.1,391.5 203.8,391.4C218.5,391.3 233.2,391.0 247.9,388.4C262.7,385.8 277.4,381.0 292.1,377.0C298.0,375.4 303.9,373.9 309.8,370.8C315.6,367.7 321.5,363.0 327.4,359.8C333.3,356.5 339.2,354.8 345.1,352.9C351.0,351.1 356.9,349.1 362.7,347.7C368.6,346.2 374.5,345.3 380.4,344.7C386.3,344.0 392.2,343.6 398.1,343.5C406.9,343.3 415.7,343.8 424.6,343.6C433.4,343.5 442.2,342.6 451.0,344.2C459.9,345.8 468.7,349.9 477.5,353.3C486.4,356.7 495.2,359.6 504.0,361.3C512.9,363.1 521.7,363.8 530.5,364.2C539.3,364.5 548.2,364.5 557.0,366.1C565.2,367.5 573.5,370.2 581.7,373.3C587.6,375.4 593.5,377.7 599.4,378.5C607.0,379.5 614.7,377.9 622.3,376.5C631.8,374.9 641.2,373.7 650.6,375.2C655.9,376.1 661.2,377.9 666.5,382.4C672.4,387.5 678.3,395.9 684.2,404.0C690.6,412.8 697.1,421.1 703.6,426.1C710.6,431.5 717.7,433.0 724.8,433.9C738.3,435.6 751.8,435.4 765.4,435.1C775.4,434.8 785.4,434.4 795.4,433.6C807.2,432.6 819.0,430.8 830.7,431.3C844.3,431.9 857.8,435.5 871.3,438.8C884.3,442.0 897.2,444.9 910.2,446.9C924.9,449.2 939.6,450.3 954.4,451.3C969.1,452.4 983.8,453.4 998.5,455.7"/>
<path d="M115.5,381.9C130.2,383.7 144.9,385.4 159.7,386.9C174.4,388.4 189.1,389.6 203.8,390.4C218.5,391.1 233.2,391.4 247.9,389.4C262.7,387.4 277.4,383.0 292.1,379.0C298.0,377.3 303.9,375.8 309.8,372.5C315.6,369.2 321.5,364.2 327.4,360.8C333.3,357.5 339.2,355.8 345.1,354.0C351.0,352.2 356.9,350.3 362.7,348.9C368.6,347.5 374.5,346.7 380.4,346.0C386.3,345.3 392.2,344.8 398.1,344.7C406.9,344.5 415.7,345.1 424.6,345.0C433.4,344.9 442.2,344.1 451.0,346.0C459.9,347.8 468.7,352.2 477.5,356.0C486.4,359.7 495.2,362.9 504.0,364.8C512.9,366.8 521.7,367.6 530.5,368.1C539.3,368.6 548.2,368.9 557.0,370.3C565.2,371.6 573.5,373.8 581.7,376.3C587.6,378.1 593.5,380.0 599.4,380.7C607.0,381.6 614.7,380.4 622.3,379.2C631.8,377.7 641.2,376.2 650.6,377.7C655.9,378.6 661.2,380.5 666.5,385.3C672.4,390.6 678.3,399.4 684.2,407.9C690.6,417.1 697.1,425.9 703.6,431.1C710.6,436.8 717.7,438.3 724.8,439.3C738.3,441.1 751.8,440.9 765.4,440.5C775.4,440.3 785.4,439.9 795.4,439.0C807.2,438.0 819.0,436.3 830.7,436.8C844.3,437.3 857.8,440.8 871.3,443.9C884.3,447.0 897.2,449.8 910.2,451.7C924.9,453.8 939.6,454.8 954.4,455.9C969.1,456.9 983.8,457.9 998.5,460.0"/>
<path d="M115.5,391.4C130.2,392.7 144.9,393.5 159.7,393.9C174.4,394.2 189.1,394.2 203.8,393.9C218.5,393.6 233.2,393.0 247.9,390.6C262.7,388.2 277.4,384.0 292.1,380.0C298.0,378.4 303.9,376.8 309.8,373.5C315.6,370.2 321.5,365.1 327.4,361.8C333.3,358.6 339.2,357.0 345.1,355.4C351.0,353.7 356.9,352.0 362.7,350.7C368.6,349.5 374.5,348.6 380.4,348.0C386.3,347.3 392.2,346.8 398.1,346.7C406.9,346.5 415.7,347.1 424.6,346.9C433.4,346.7 442.2,345.7 451.0,347.7C459.9,349.6 468.7,354.5 477.5,358.6C486.4,362.7 495.2,366.1 504.0,368.3C512.9,370.5 521.7,371.6 530.5,372.2C539.3,372.7 548.2,372.6 557.0,374.8C565.2,376.7 573.5,380.6 581.7,385.0C587.6,388.1 593.5,391.5 599.4,392.4C607.0,393.5 614.7,390.3 622.3,388.1C631.8,385.2 641.2,383.8 650.6,385.2C655.9,386.0 661.2,387.7 666.5,392.0C672.4,396.8 678.3,404.9 684.2,412.6C690.6,421.0 697.1,429.0 703.6,433.7C710.6,438.9 717.7,440.2 724.8,441.1C738.3,442.8 751.8,442.6 765.4,442.3C775.4,442.0 785.4,441.6 795.4,440.8C807.2,439.8 819.0,438.1 830.7,438.5C844.3,439.1 857.8,442.4 871.3,445.5C884.3,448.4 897.2,451.2 910.2,453.0C924.9,455.1 939.6,456.1 954.4,457.1C969.1,458.1 983.8,459.0 998.5,461.1"/>
<path d="M115.5,393.9C130.2,395.6 144.9,396.4 159.7,396.6C174.4,396.8 189.1,396.5 203.8,395.8C218.5,395.2 233.2,394.3 247.9,391.9C262.7,389.4 277.4,385.4 292.1,381.5C298.0,379.9 303.9,378.3 309.8,374.9C315.6,371.5 321.5,366.4 327.4,363.1C333.3,359.8 339.2,358.4 345.1,356.9C351.0,355.4 356.9,353.8 362.7,352.6C368.6,351.4 374.5,350.7 380.4,350.0C386.3,349.3 392.2,348.8 398.1,348.7C406.9,348.5 415.7,349.1 424.6,348.8C433.4,348.5 442.2,347.2 451.0,349.2C459.9,351.2 468.7,356.6 477.5,361.0C486.4,365.5 495.2,369.1 504.0,371.5C512.9,374.0 521.7,375.3 530.5,376.0C539.3,376.7 548.2,376.8 557.0,379.0C565.2,381.0 573.5,384.8 581.7,389.0C587.6,392.1 593.5,395.3 599.4,396.3C608.8,398.0 618.2,393.9 627.6,394.4C635.9,394.8 644.1,398.8 652.4,403.8C660.6,408.8 668.8,414.9 677.1,420.7C683.0,424.8 688.9,428.7 694.7,431.8C704.8,437.1 714.8,439.9 724.8,441.5C738.3,443.7 751.8,443.7 765.4,443.5C775.4,443.3 785.4,443.0 795.4,442.0C807.2,440.9 819.0,438.8 830.7,439.8C844.3,440.9 857.8,445.9 871.3,448.9C884.3,451.8 897.2,452.9 910.2,454.1C924.9,455.4 939.6,456.7 954.4,458.1C969.1,459.5 983.8,460.8 998.5,462.1"/>
</g>
<line x1="113.8" x2="1000.4" y1="6.8" y2="6.8" stroke="#000" stroke-width="2.2"/>
<line x1="999.4" x2="999.4" y1="6" y2="478" stroke="#000" stroke-width="2"/>
<g class="num"><text x="91" y="486.4" text-anchor="end">0</text><text x="91" y="436.8" text-anchor="end">0.02</text><text x="91" y="387.2" text-anchor="end">0.04</text><text x="91" y="337.5" text-anchor="end">0.06</text><text x="91" y="287.9" text-anchor="end">0.08</text><text x="91" y="238.2" text-anchor="end">0.1</text><text x="91" y="188.6" text-anchor="end">0.12</text><text x="91" y="139.0" text-anchor="end">0.14</text><text x="91" y="89.3" text-anchor="end">0.16</text><text x="91" y="39.7" text-anchor="end">0.18</text><text x="116.1" y="520.5" text-anchor="middle">400</text><text x="204.4" y="520.5" text-anchor="middle">450</text><text x="292.7" y="520.5" text-anchor="middle">500</text><text x="381.0" y="520.5" text-anchor="middle">550</text><text x="469.3" y="520.5" text-anchor="middle">600</text><text x="557.6" y="520.5" text-anchor="middle">650</text><text x="645.9" y="520.5" text-anchor="middle">700</text><text x="734.2" y="520.5" text-anchor="middle">750</text><text x="822.5" y="520.5" text-anchor="middle">800</text><text x="910.8" y="520.5" text-anchor="middle">850</text><text x="999.1" y="520.5" text-anchor="middle">900</text></g>
<text class="ttl" x="557.8" y="557.2" font-size="28.9" text-anchor="middle">Wavelength (nm)</text>
<text class="ttl" transform="translate(27.6,247.4) rotate(-90)" font-size="28.7" text-anchor="middle">Reflectance</text>
</svg>
</body></html>
